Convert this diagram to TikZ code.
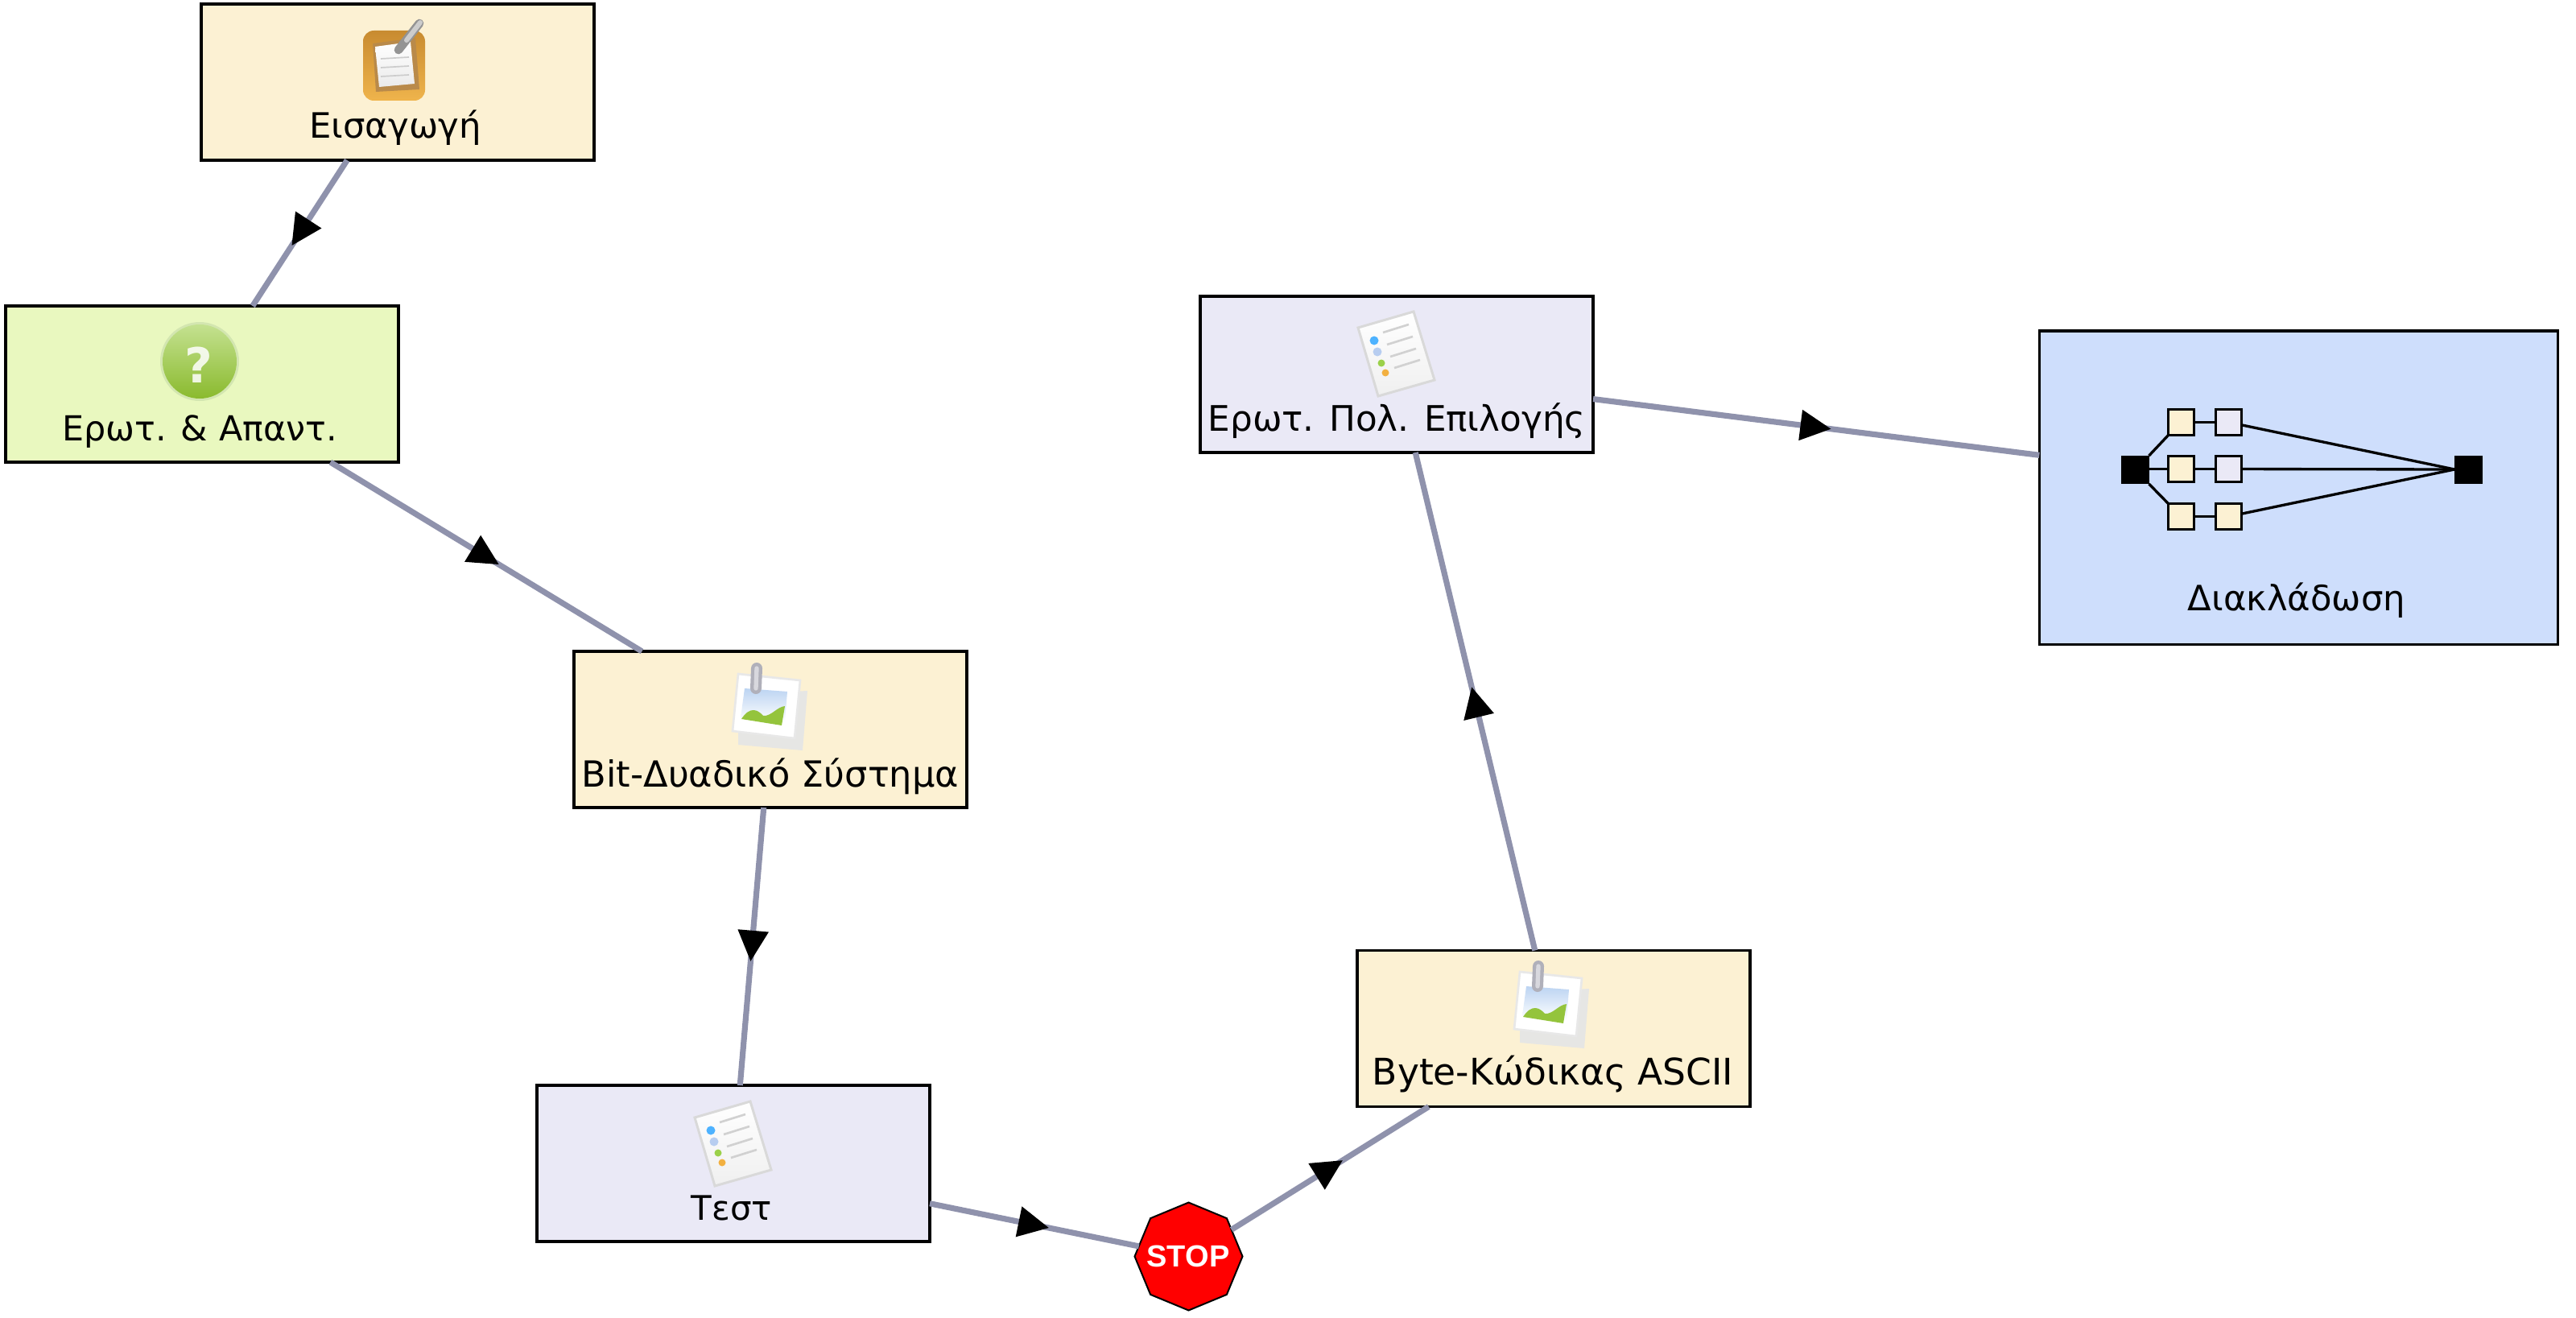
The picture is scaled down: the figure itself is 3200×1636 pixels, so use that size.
\documentclass[tikz,border=0pt]{standalone}
\usepackage{fontspec}
\setmainfont{DejaVu Sans}
\newfontfamily\stopfont{Liberation Sans}
\usetikzlibrary{shapes.geometric,decorations.markings}
\definecolor{creamc}{HTML}{FCF1D3}
\definecolor{greenc}{HTML}{E9F8BF}
\definecolor{lavc}{HTML}{EAE9F6}
\definecolor{bluec}{HTML}{CEDEFC}
\definecolor{linkc}{HTML}{8F92AC}
\definecolor{boardtop}{HTML}{C88B30}
\definecolor{boardbot}{HTML}{EFB44C}
\definecolor{boardin}{HTML}{B98A4A}
\definecolor{balltop}{HTML}{C4E190}
\definecolor{ballbot}{HTML}{8ABA2E}
\definecolor{ballhalo}{HTML}{D3E6B0}
\definecolor{skyc}{HTML}{BCD4F2}
\definecolor{hillc}{HTML}{94C43C}
\definecolor{sheetc}{HTML}{E6E6E4}
\definecolor{clipc}{HTML}{B0B0BA}
\definecolor{clipl}{HTML}{D8D8DE}
\definecolor{dota}{HTML}{4DB2FF}
\definecolor{dotb}{HTML}{B7CDF0}
\definecolor{dotc}{HTML}{9BD14A}
\definecolor{dotd}{HTML}{F2B040}
\tikzset{
  x=0.3pt,y=-0.3pt,
  stagebox/.style={draw=black,line width=1pt,rectangle,inner sep=0pt,outer sep=0pt,minimum width=#1},
  stagebox/.default=146.4pt,
  lab/.style={anchor=base,inner sep=0pt,font=\fontsize{#1}{16pt}\selectfont},
  link/.style={draw=linkc,line width=2.15pt,postaction={decorate},
    decoration={markings,mark=at position 0.5 with {\fill[black] (5.5pt,0pt)--(-5.9pt,5.8pt)--(-5.9pt,-5.8pt)--cycle;}}},
  mini/.style={draw=black,line width=1pt,rectangle,inner sep=0pt,outer sep=0pt,minimum width=9.6pt,minimum height=9.6pt},
  minilink/.style={draw=black,line width=1pt},
  blacksq/.style={fill=black,rectangle,inner sep=0pt,outer sep=0pt,minimum width=10.5pt,minimum height=10.5pt},
}
\newcommand{\noteicon}{%
  \shade[top color=boardtop,bottom color=boardbot,rounded corners=4pt] (451,38) rectangle (528,125);
  \fill[boardin] (463,54)--(516,47)--(521,111)--(467,114)--cycle;
  \shade[top color=white,bottom color=black!8] (466,58)--(510,52)--(515,104)--(471,108)--cycle;
  \foreach \a in {73,84,95}{\draw[black!20,line width=.5pt] (473,\a)--(508,\a-2);}
  \draw[black!42,line width=3.2pt,line cap=round] (495,62)--(521,29);
  \draw[black!20,line width=1.8pt,line cap=round] (505,50)--(522,28);
}
\newcommand{\questicon}{%
  \fill[ballhalo] (248,449) circle (49);
  \shade[top color=balltop,bottom color=ballbot] (248,449) circle (46);
  \node[inner sep=0pt,anchor=base,text=white,opacity=.85,font=\fontsize{18pt}{19pt}\selectfont\bfseries] (qmark) at (247,475) {?};
}
\newcommand{\imageicon}[2]{%
  \begin{scope}[shift={(#1,#2)}]
  \fill[sheetc] (918,863)--(1003,858)--(997,932)--(917,925)--cycle;
  \fill[white] (917,837)--(994,845)--(987,917)--(910,908)--cycle;
  \draw[black!9,line width=.8pt] (917,837)--(994,845)--(987,917)--(910,908)--cycle;
  \shade[top color=skyc,bottom color=white] (925,855)--(978,859)--(975,897)--(920,892)--cycle;
  \fill[hillc] (921,893) .. controls (932,876) and (942,882) .. (948,889) .. controls (958,890) and (965,878) .. (975,877) -- (971,901) -- cycle;
  \draw[clipc,line width=4.2pt,line cap=round] (940,830)--(939,855);
  \draw[clipl,line width=1.6pt,line cap=round] (940,830)--(939,855);
  \end{scope}
}
\newcommand{\listicon}[2]{%
  \begin{scope}[shift={(#1,#2)}]
  \shade[top color=white,bottom color=black!6,draw=black!15,line width=.9pt] (1687,407)--(1756,387)--(1782,472)--(1712,492)--cycle;
  \foreach \a/\b in {1718/413,1723/428,1727/443,1732/457}{\draw[black!18,line width=.8pt] (\a,\b)--(\a+32,\b-10);}
  \fill[dota] (1707,423) circle (5.5);
  \fill[dotb] (1711,437) circle (5.5);
  \fill[dotc] (1716,451) circle (4.5);
  \fill[dotd] (1721,463) circle (4.5);
  \end{scope}
}
\begin{document}
\begin{tikzpicture}
\useasboundingbox (0,0) rectangle (3200,1636);
% stages
\node[stagebox,minimum height=58.2pt,fill=creamc] (intro) at (494,102) {};
\node[stagebox,minimum height=58.2pt,fill=greenc] (qa) at (251,477) {};
\node[stagebox,minimum height=58.2pt,fill=creamc] (bit) at (957,906) {};
\node[stagebox,minimum height=58.2pt,fill=lavc] (test) at (911,1445) {};
\node[stagebox,minimum height=58.2pt,fill=lavc] (mcq) at (1735,465) {};
\node[stagebox,minimum height=58.2pt,fill=creamc] (byte) at (1930,1277.5) {};
\node[stagebox=193.3pt,minimum height=116.8pt,fill=bluec] (branch) at (2855.5,605.5) {};
\node[regular polygon,regular polygon sides=8,shape border rotate=22.5,draw=black,line width=.6pt,fill=red,inner sep=0pt,outer sep=0pt,minimum size=40.2pt] (halt) at (1476.5,1560.5) {};
% connectors
\path[link] (intro) -- (qa);
\path[link] (qa) -- (bit);
\path[link] (bit) -- (test);
\path[link] (test) -- (halt);
\path[link] (halt) -- (byte);
\path[link] (byte) -- (mcq);
\path[link] (mcq) -- (branch);
% icons
\noteicon
\questicon
\imageicon{0}{0}
\imageicon{971}{370}
\listicon{0}{0}
\listicon{-824}{981}
% labels
\node[lab=13pt] (t1) at (491,172) {Εισαγωγή};
\node[lab=12.85pt] (t2) at (248,547) {Ερωτ. \& Απαντ.};
\node[lab=13.4pt] (t3) at (957,977) {Bit-Δυαδικό Σύστημα};
\node[lab=12.6pt] (t4) at (909,1515) {Τεστ};
\node[lab=13.1pt] (t5) at (1735,535) {Ερωτ. Πολ. Επιλογής};
\node[lab=13.65pt] (t6) at (1929,1347) {Byte-Κώδικας ASCII};
\node[lab=13pt] (t7) at (2853,758) {Διακλάδωση};
\node[anchor=base,inner sep=0pt,text=white,font=\stopfont\bfseries\fontsize{11.4pt}{12pt}\selectfont] (t8) at (1476,1573) {STOP};
% branch miniature
\node[blacksq] (bs) at (2652,583.5) {};
\node[blacksq] (be) at (3066.5,583.5) {};
\node[mini,fill=creamc] (a1) at (2709.5,524.5) {};
\node[mini,fill=lavc] (a2) at (2768.5,524.5) {};
\node[mini,fill=creamc] (b1) at (2709.5,582.5) {};
\node[mini,fill=lavc] (b2) at (2768.5,582.5) {};
\node[mini,fill=creamc] (c1) at (2709.5,641.5) {};
\node[mini,fill=creamc] (c2) at (2768.5,641.5) {};
\coordinate (bj) at (3049,583);
\draw[minilink] (bs.north east) -- (a1.south west);
\draw[minilink] (bs.south east) -- (c1.north west);
\draw[minilink] (b1.west) -- (bs.east |- b1.west);
\draw[minilink] (a1) -- (a2);
\draw[minilink] (b1) -- (b2);
\draw[minilink] (c1) -- (c2);
\draw[minilink] (a2) -- (bj);
\draw[minilink] (b2) -- (bj);
\draw[minilink] (c2) -- (bj);
\end{tikzpicture}
\end{document}
